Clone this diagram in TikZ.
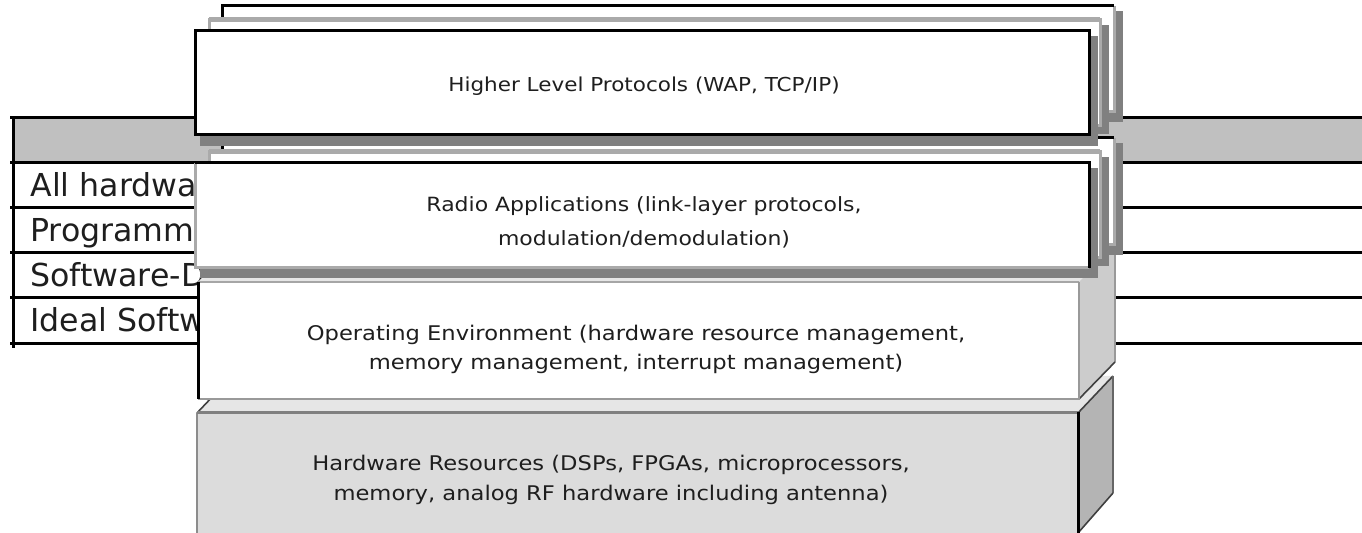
\documentclass[tikz,border=0pt]{standalone}
\usepackage{fontspec}
\setmainfont{DejaVu Sans}
\newfontfamily\layerfont[FakeStretch=1.12]{DejaVu Sans}
\definecolor{hdrgray}{HTML}{C0C0C0}
\definecolor{shadowgray}{HTML}{808080}
\definecolor{rimgray}{HTML}{AAAAAA}
\definecolor{sidegray}{HTML}{CCCCCC}
\definecolor{hwfront}{HTML}{DCDCDC}
\definecolor{hwside}{HTML}{B4B4B4}
\definecolor{facetop}{HTML}{E6E6E6}
\definecolor{inkgray}{HTML}{1E1E1E}
\begin{document}
\begin{tikzpicture}[x=0.5pt,y=-0.5pt,
  tableline/.style={line width=1.5pt, draw=black},
  inkline/.style={line width=1.5pt, draw=black},
  rimline/.style={line width=1.5pt, draw=rimgray},
  edgeline/.style={line width=0.8pt, draw=black!75},
  rowlabel/.style={anchor=base west, inner sep=0pt, text=inkgray,
    font=\fontsize{15.8}{18}\selectfont},
  layerlabel/.style={inner sep=0pt, align=center, text=inkgray,
    font=\layerfont\fontsize{9.6}{15}\selectfont},
  shadowfill/.style={fill=shadowgray},
]
\useasboundingbox (0,0) rectangle (1362,533);
\clip (0,0) rectangle (1362,533);

% ---------- comparison table behind the layer stack ----------
\fill[hdrgray] (13,118) rectangle (1362,163);
\foreach \yy in {118,163,208,253,298,344}
  \draw[tableline] (10,\yy) -- (1362,\yy);
\draw[tableline] (13,118) -- (13,348);
\node[rowlabel] (row1) at (30,197) {All hardwa};
\node[rowlabel] (row2) at (30,242) {Programm};
\node[rowlabel] (row3) at (30,287) {Software-D};
\node[rowlabel] (row4) at (30,332) {Ideal Softw};

% ---------- hardware resources block (3D) ----------
\fill[facetop] (197,413) -- (1078,413) -- (1113,376) -- (232,376) -- cycle;
\fill[hwside] (1078,413) -- (1113,376) -- (1113,493) -- (1078,533) -- cycle;
\draw[edgeline] (1078,413) -- (1113,376);
\draw[line width=1.2pt, draw=black!60] (1113,376) -- (1113,493);
\draw[edgeline] (1113,493) -- (1078,533);
\draw[edgeline] (197,413) -- (232,376);
\fill[hwfront] (197,413) rectangle (1078,545);
\draw[line width=1pt, draw=black!45] (197,545) -- (197,413);
\draw[line width=1.5pt, draw=shadowgray] (197,413) -- (1078,413);
\draw[inkline] (1078,412) -- (1078,545);
\node[layerlabel, font=\layerfont\fontsize{10.1}{15}\selectfont] (hw) at (611,480)
  {Hardware Resources (DSPs, FPGAs, microprocessors,\\memory, analog RF hardware including antenna)};

% ---------- operating environment block (3D) ----------
\fill[facetop] (198,282) -- (1079,282) -- (1115,245) -- (234,245) -- cycle;
\fill[sidegray] (1079,282) -- (1115,245) -- (1115,362) -- (1079,399) -- cycle;
\draw[line width=1.2pt, draw=black!40] (1115,245) -- (1115,362);
\draw[edgeline] (1115,362) -- (1079,399);
\fill[white] (198,282) rectangle (1079,399);
\draw[line width=1pt, draw=black!35] (198,282) -- (1079,282);
\draw[line width=1pt, draw=black!40] (1079,282) -- (1079,399) -- (198,399);
\draw[inkline] (198,282) -- (198,399);
\node[layerlabel, font=\layerfont\fontsize{10.1}{14.5}\selectfont] (oe) at (636,349)
  {Operating Environment (hardware resource management,\\memory management, interrupt management)};

% ---------- radio applications card stack ----------
% rear card
\fill[shadowfill] (227,143) rectangle (1123,255);
\fill[white] (222,138) rectangle (1114,245);
\draw[rimline] (1114,138) -- (1114,245) -- (222,245);
\draw[inkline] (222,245) -- (222,138) -- (1114,138);
% middle card
\fill[shadowfill] (214,157) rectangle (1109,266);
\filldraw[fill=white, rimline] (209,152) rectangle (1100,258);
\draw[rimgray, line width=2.5pt] (209,152) -- (1100,152);
% front card
\fill[shadowfill] (200,168) rectangle (1098,278);
\fill[white] (195,163) rectangle (1089,268);
\draw[rimline] (1089,268) -- (195,268) -- (195,163);
\draw[inkline] (195,163) -- (1089,163) -- (1089,268);
\node[layerlabel, font=\layerfont\fontsize{9.8}{17}\selectfont] (radio) at (644,222)
  {Radio Applications (link-layer protocols,\\modulation/demodulation)};

% ---------- higher level protocols card stack ----------
% rear card
\fill[shadowfill] (227,11) rectangle (1123,122);
\fill[white] (222,6) rectangle (1114,112);
\draw[rimline] (1114,6) -- (1114,112) -- (222,112);
\draw[inkline] (222,112) -- (222,6) -- (1114,6);
% middle card
\fill[shadowfill] (214,25) rectangle (1109,134);
\filldraw[fill=white, rimline] (209,20) rectangle (1100,126);
\draw[rimgray, line width=2.5pt] (209,20) -- (1100,20);
% front card
\fill[shadowfill] (200,36) rectangle (1098,146);
\filldraw[fill=white, inkline] (195,31) rectangle (1089,135);
\node[layerlabel] (hlp) at (644,86) {Higher Level Protocols (WAP, TCP/IP)};
\end{tikzpicture}
\end{document}
